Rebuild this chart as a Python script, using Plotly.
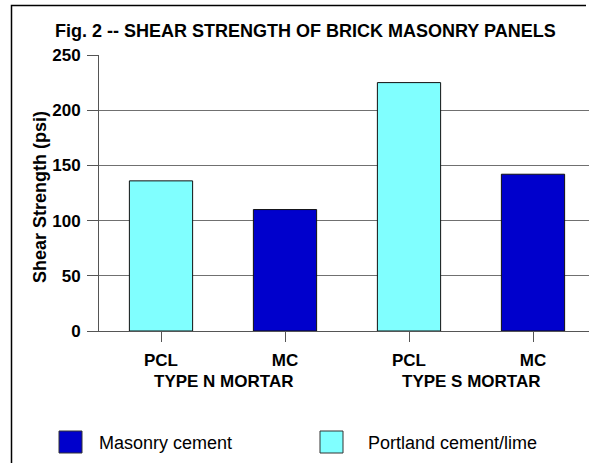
import plotly.graph_objects as go

# Data
tick_labels = ["PCL", "MC", "PCL", "MC"]
group_labels = ["TYPE N MORTAR", "TYPE S MORTAR"]
mc_x = [1, 3]
mc_values = [110, 142]
pcl_x = [0, 2]
pcl_values = [136, 225]
series_names = ["Masonry cement", "Portland cement/lime"]
colors = ["#0000CC", "#80FFFF"]

FONT = "Liberation Sans, Arial, sans-serif"

fig = go.Figure()
fig.add_trace(go.Bar(x=pcl_x, y=pcl_values, name=series_names[1], width=0.51,
                     marker=dict(color=colors[1], line=dict(color="#111111", width=1)),
                     showlegend=False))
fig.add_trace(go.Bar(x=mc_x, y=mc_values, name=series_names[0], width=0.51,
                     marker=dict(color=colors[0], line=dict(color="#111111", width=1)),
                     showlegend=False))

W, H = 589, 466
L, R, T, B = 99, 0, 55, 135
pw = W - L - R
ph = H - T - B

def px(x):
    return (x - L) / pw

def py(y):
    return (H - B - y) / ph

span = pw / 124.0

fig.update_layout(
    width=W, height=H,
    margin=dict(l=L, r=R, t=T, b=B, pad=0),
    paper_bgcolor="white", plot_bgcolor="white",
    barmode="overlay",
    font=dict(family=FONT, color="black"),
    xaxis=dict(range=[-0.5, -0.5 + span], tickvals=list(range(len(tick_labels))),
               ticktext=["<b>%s</b>" % t for t in tick_labels],
               ticks="outside", ticklen=10, tickcolor="#555555",
               ticklabelstandoff=4,
               showline=True, linecolor="#555555", linewidth=1,
               showgrid=False, zeroline=False,
               tickfont=dict(size=17, family=FONT)),
    yaxis=dict(range=[0, 250], tickvals=[0, 50, 100, 150, 200, 250],
               ticktext=["<b>%d</b>" % v for v in [0, 50, 100, 150, 200, 250]],
               ticks="outside", ticklen=11, tickcolor="#555555",
               ticklabelstandoff=3,
               showline=True, linecolor="#555555", linewidth=1,
               showgrid=True, gridcolor="#707070", gridwidth=1.3,
               zeroline=False, tickfont=dict(size=17, family=FONT)),
)

ann = []
ann.append(dict(text="<b>Fig. 2 -- SHEAR STRENGTH OF BRICK MASONRY PANELS</b>",
                xref="paper", yref="paper", x=px(305), y=py(31),
                xanchor="center", yanchor="middle", showarrow=False,
                font=dict(size=18, family=FONT)))
ann.append(dict(text="<b>Shear Strength (psi)</b>", textangle=-90,
                xref="paper", yref="paper", x=px(40), y=py(197),
                xanchor="center", yanchor="middle", showarrow=False,
                font=dict(size=18, family=FONT)))
for i, g in enumerate(group_labels):
    ann.append(dict(text="<b>%s</b>" % g, xref="x", yref="paper", x=2 * i + 0.5, y=py(381),
                    xanchor="center", yanchor="middle", showarrow=False,
                    font=dict(size=17, family=FONT)))

shapes = []
# outer frame (left and top edges) as one open path
frame_path = "M {x0},{y0} L {x0},{y1} L {x2},{y1}".format(
    x0=px(11.5), y0=py(463), y1=py(5.5), x2=px(586))
shapes.append(dict(type="path", xref="paper", yref="paper", path=frame_path,
                   line=dict(color="black", width=1.5), layer="below"))
# legend
legend_items = [(59, 97, series_names[0], colors[0]), (320, 366, series_names[1], colors[1])]
for sx, tx, name, col in legend_items:
    shapes.append(dict(type="rect", xref="paper", yref="paper",
                       x0=px(sx), x1=px(sx + 23), y0=py(453), y1=py(431),
                       fillcolor=col, line=dict(color="#333333", width=1)))
    ann.append(dict(text=name, xref="paper", yref="paper", x=px(tx), y=py(443),
                    xanchor="left", yanchor="middle", showarrow=False,
                    font=dict(size=18, family=FONT)))

fig.update_layout(annotations=ann, shapes=shapes)
fig.write_html("out.html", config={"displayModeBar": False},
               post_script="document.body.style.margin='0';document.body.style.overflow='hidden';"
                           "document.documentElement.style.overflow='hidden';")
